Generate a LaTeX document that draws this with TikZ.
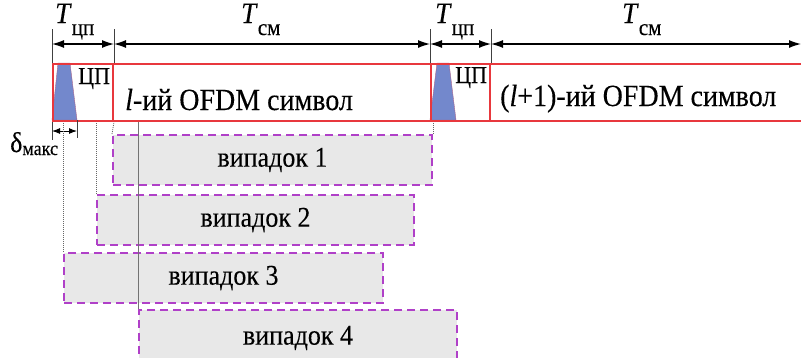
\documentclass[tikz,border=0pt]{standalone}
\usepackage{fontspec}
\setmainfont{Liberation Serif}
\newfontfamily\tnr[FakeBold=0.25]{Liberation Serif}
\usetikzlibrary{arrows.meta}
\definecolor{redl}{HTML}{E8383D}
\definecolor{bluef}{HTML}{7388CC}
\definecolor{purp}{HTML}{B040C8}
\definecolor{grayf}{HTML}{E8E8E8}
\newcommand{\vst}[1]{\scalebox{1}[1.1]{#1}}
\newcommand{\fsz}[1]{\tnr\fontsize{#1}{#1}\selectfont}
\begin{document}
\begin{tikzpicture}[x=1pt,y=-1pt,
  dim/.style={{Latex[length=12pt,width=8pt]}-{Latex[length=12pt,width=8pt]}, line width=1.2pt},
  sdim/.style={{Latex[length=8pt,width=6pt]}-{Latex[length=8pt,width=6pt]}, line width=1pt},
  tick/.style={line width=0.8pt, black!75},
  cell/.style={draw=redl, line width=2pt, minimum height=57pt, inner sep=0pt, anchor=north west},
  lost/.style={draw=purp, fill=grayf, dash pattern=on 8pt off 5pt, line width=2pt, minimum height=50pt, inner sep=0pt, anchor=north west, font=\fsz{26}},
  guide/.style={line width=0.8pt, black!60, dash pattern=on 1pt off 1pt},
  sguide/.style={line width=0.8pt, black!55},
  lbl/.style={inner sep=0pt, anchor=base west},
  cpfill/.style={fill=bluef, draw=redl!45!bluef, line width=0.4pt}
]
\useasboundingbox (0,0) rectangle (801,357);
\clip (0,0) rectangle (801,357);
\fill[white] (0,0) rectangle (801,357);

% CP pulses
\filldraw[cpfill] (52,120) -- (58,63) -- (70,63) -- (77,120) -- cycle;
\filldraw[cpfill] (430,120) -- (437,63) -- (449,63) -- (456,120) -- cycle;

% symbol frame
\node[cell, minimum width=60pt] (cp1) at (52,63) {};
\node[cell, minimum width=318pt] (s1) at (112,63) {};
\node[cell, minimum width=59pt] (cp2) at (430,63) {};
\node[cell, minimum width=340pt] (s2) at (489,63) {};

\node[lbl, font=\fsz{22}] (cpt1) at (78,84) {\vst{ЦП}};
\node[lbl, font=\fsz{22}] (cpt2) at (455,83) {\vst{ЦП}};
\node[lbl, font=\fsz{28}] (st1) at (125,110) {\vst{\textit{l}-ий OFDM символ}};
\node[lbl, font=\fsz{28}] (st2) at (500,106) {\vst{(\textit{l}+1)-ий OFDM символ}};

% dimension lines
\coordinate (d0) at (cp1.north west |- 0,44);
\coordinate (d1) at (cp1.north east |- 0,44);
\coordinate (d2) at (cp2.north west |- 0,44);
\coordinate (d3) at (cp2.north east |- 0,44);
\coordinate (d4) at (801,44);
\draw[tick] (cp1.north west) -- ++(0,-34);
\draw[tick] (cp1.north east) -- ++(0,-34);
\draw[tick] (cp2.north west) -- ++(0,-34);
\draw[tick] (cp2.north east) -- ++(0,-34);
\draw[dim] (d0) -- (d1);
\draw[dim] (d1) -- (d2);
\draw[dim] (d2) -- (d3);
\draw[dim] (d3) -- (d4);

\node[lbl] (t1) at (55,23) {\fsz{27}\vst{\textit{T}}\raisebox{-12pt}{\fsz{21}\vst{цп}}};
\node[lbl] (t2) at (241,23) {\fsz{27}\vst{\textit{T}}\raisebox{-12pt}{\fsz{21}\vst{см}}};
\node[lbl] (t3) at (435,23) {\fsz{27}\vst{\textit{T}}\raisebox{-12pt}{\fsz{21}\vst{цп}}};
\node[lbl] (t4) at (622,23) {\fsz{27}\vst{\textit{T}}\raisebox{-12pt}{\fsz{21}\vst{см}}};

% delta max
\coordinate (e0) at (52,131);
\coordinate (e1) at (77,131);
\draw[tick] (cp1.south west) -- ++(0,18);
\draw[tick] (77,120) -- ++(0,18);
\draw[sdim] (e0) -- (e1);
\node[lbl] (dl) at (10,152) {\fsz{26}\vst{δ}\raisebox{-3pt}{\fsz{18}\vst{макс}}};

% lost copies
\node[lost, minimum width=319pt] (v1) at (112,134) {\vst{випадок 1}};
\node[lost, minimum width=317pt] (v2) at (96,194) {\vst{випадок 2}};
\node[lost, minimum width=319pt] (v3) at (63,252) {\vst{випадок 3}};
\node[lost, minimum width=318pt, minimum height=56pt] (v4) at (138,309) {\raisebox{-3pt}{\vst{випадок 4}}};

% guides
\draw[guide] (v3.north west) -- (v3.north west |- cp1.south);
\draw[guide] (v2.north west) -- (v2.north west |- cp1.south);
\draw[guide] (v1.north west) -- (cp1.south east);
\draw[guide] (v1.north east) -- (v1.north east |- cp1.south);
\draw[sguide] (v4.north west) -- (v4.north west |- cp1.south);
\end{tikzpicture}
\end{document}
